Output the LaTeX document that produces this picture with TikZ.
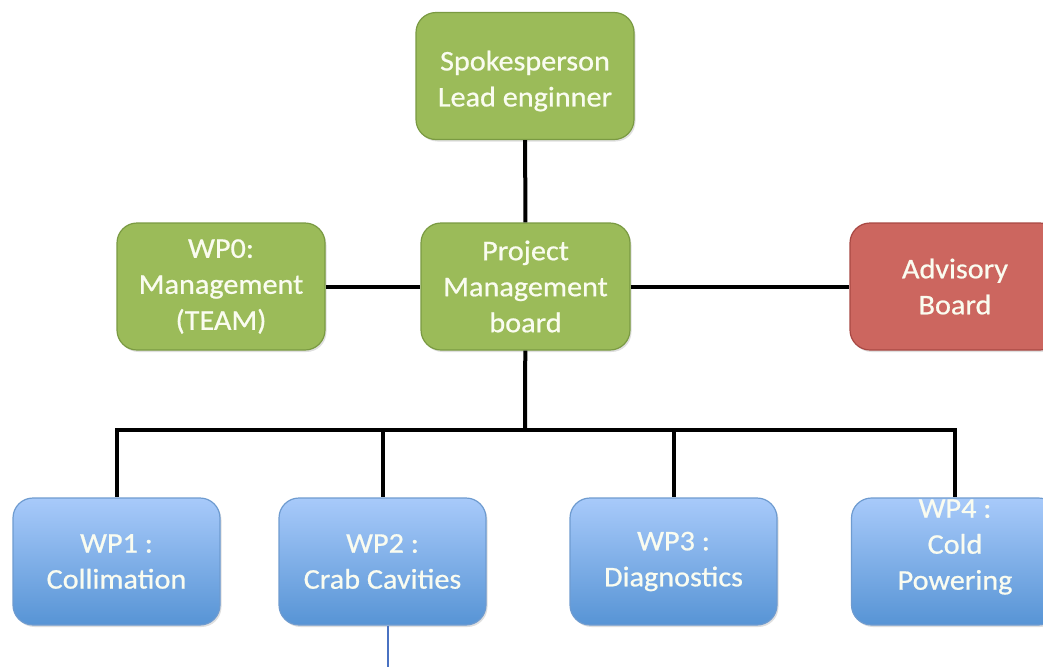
\documentclass[tikz,border=0pt]{standalone}
\usepackage{fontspec}
\setmainfont{Carlito}
\newfontfamily\boxfont{Carlito}[FakeBold=0.7, FakeStretch=1.06]
\usetikzlibrary{shadows}
\definecolor{gfill}{HTML}{9BBB59}
\definecolor{gdraw}{HTML}{7A9A42}
\definecolor{rfill}{HTML}{CC665F}
\definecolor{rdraw}{HTML}{A84843}
\definecolor{btop}{HTML}{A8CAFA}
\definecolor{bbot}{HTML}{5794D5}
\definecolor{bdraw}{HTML}{6E9BD0}
\definecolor{txt}{HTML}{FAFCF0}
\definecolor{thinblue}{HTML}{4A72C2}
\tikzset{
  boxtext/.style={align=center, text=txt, inner sep=0pt,
    font=\boxfont\fontsize{28.5}{36}\selectfont},
  base/.style={boxtext, rounded corners=20pt, line width=1.2pt,
    drop shadow={shadow xshift=1.5pt, shadow yshift=-2pt, opacity=0.25}},
  gbox/.style={base, fill=gfill, draw=gdraw},
  rbox/.style={base, fill=rfill, draw=rdraw},
  bbox/.style={base, top color=btop, bottom color=bbot, draw=bdraw,
    minimum width=207pt, minimum height=127pt},
  conn/.style={line width=4pt, black},
}
\begin{document}
\begin{tikzpicture}[x=1pt,y=-1pt]
\useasboundingbox (0,0) rectangle (1043,667);
\begin{scope}
\clip (0,0) rectangle (1043,667);
\node[gbox, minimum width=218pt, minimum height=127pt] (top) at (525,76) {};
\node[boxtext] (topt) at (525,81) {Spokesperson\\Lead enginner};
\node[gbox, minimum width=209pt, minimum height=127pt] (pmb) at (525.5,286.5) {Project\\Management\\board};
\node[gbox, minimum width=208pt, minimum height=127pt] (wp0) at (221,286.5) {WP0:\\Management\\(TEAM)};
\node[rbox, minimum width=210pt, minimum height=127pt] (adv) at (955,286.5) {Advisory\\Board};
\node[bbox] (wp1) at (116.5,561.5) {WP1 :\\Collimation};
\node[bbox] (wp2) at (382.5,561.5) {WP2 :\\Crab Cavities};
\node[bbox] (wp3) at (673.5,561.5) {WP3 :\\Diagnostics};
\node[bbox] (wp4) at (955,561.5) {};
\node[boxtext] (wp4t) at (955,547) {WP4 :\\Cold\\Powering};

\coordinate (bus) at (525,430);
\coordinate (b1) at (116.5,430);
\coordinate (b2) at (382.5,430);
\coordinate (b3) at (673.5,430);
\coordinate (b4) at (955,430);

\draw[conn] (top) -- (pmb);
\draw[conn] (wp0) -- (pmb);
\draw[conn] (pmb) -- (adv);
\draw[conn] (pmb) -- (bus);
\draw[conn, line cap=rect] (b1) -- (b4);
\draw[conn] (b1) -- (wp1);
\draw[conn] (b2) -- (wp2);
\draw[conn] (b3) -- (wp3);
\draw[conn] (b4) -- (wp4);

\coordinate (tail) at (388,667);
\draw[thinblue, line width=1.5pt] ([xshift=5.5pt]wp2.south) -- (tail);
\end{scope}
\end{tikzpicture}
\end{document}
